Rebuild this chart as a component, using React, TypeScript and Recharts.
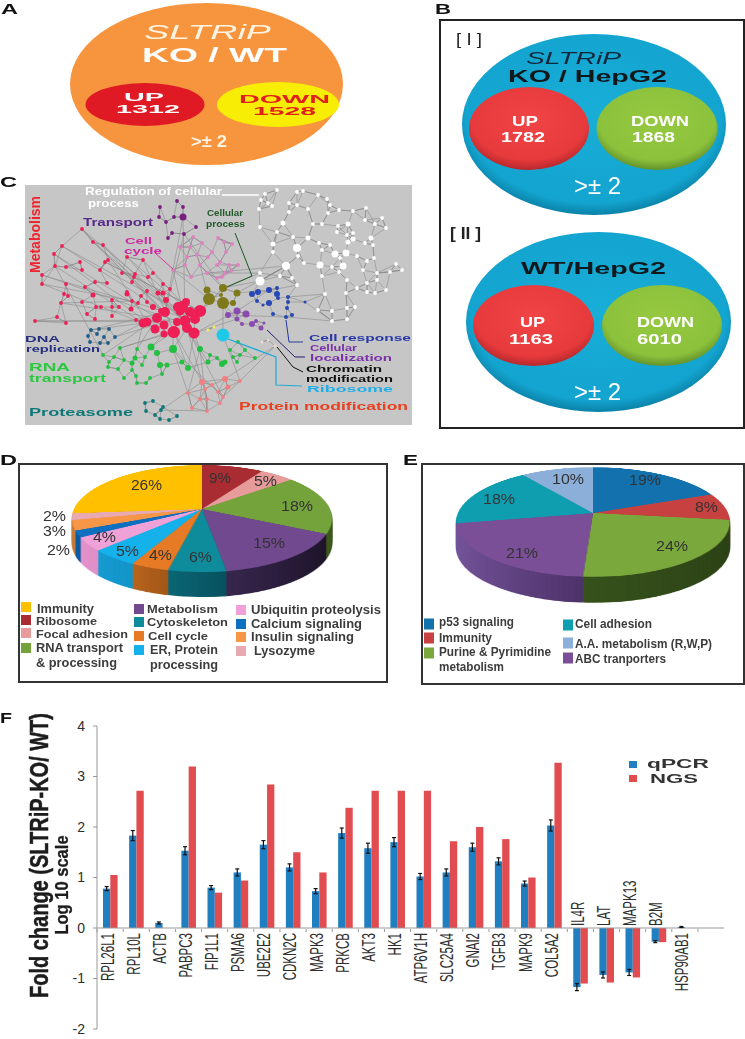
import React from 'react';
import {
    BarChart, Bar, XAxis, YAxis, ErrorBar, ReferenceLine,
    PieChart, Pie, Cell, ScatterChart, Scatter
} from 'recharts';

const FONT = '"Liberation Sans", Arial, sans-serif';

// panel F
const genes = ['RPL26L1', 'RPL10L', 'ACTB', 'PABPC3', 'FIP1L1', 'PSMA6', 'UBE2E2', 'CDKN2C', 'MAPK3', 'PRKCB', 'AKT3', 'HK1', 'ATP6V1H', 'SLC25A4', 'GNAI2', 'TGFB3', 'MAPK9', 'COL5A2', 'IL4R', 'LAT', 'MAPK13', 'B2M', 'HSP90AB1', ''];
const labelsAboveAxis = ['IL4R', 'LAT', 'MAPK13', 'B2M'];
const qpcr = [0.78, 1.83, 0.1, 1.53, 0.8, 1.1, 1.65, 1.2, 0.73, 1.88, 1.58, 1.7, 1.02, 1.1, 1.6, 1.32, 0.88, 2.03, -1.17, -0.93, -0.88, -0.27, 0.02, 0];
const ngs = [1.05, 2.72, 0, 3.2, 0.7, 0.94, 2.84, 1.5, 1.1, 2.38, 2.72, 2.72, 2.72, 1.72, 2.0, 1.76, 1.0, 3.27, -1.1, -1.08, -0.98, -0.28, 0, 0];
const qpcrErr = [0.04, 0.1, 0.02, 0.08, 0.04, 0.07, 0.08, 0.07, 0.05, 0.1, 0.1, 0.09, 0.06, 0.07, 0.08, 0.07, 0.05, 0.11, 0.07, 0.06, 0.06, 0.02, 0.01, 0];
const barRows = genes.map((g, i) => ({ g, qpcr: qpcr[i], ngs: ngs[i], err: qpcrErr[i] }));

// panel D
const dValues = [9, 5, 18, 15, 6, 4, 5, 4, 2, 3, 2, 26];
const dTop = ['#a92c32', '#e79b9b', '#74a33c', '#71498e', '#0f8c9c', '#e67a25', '#14b1ea', '#f0a2d8', '#0d6fc0', '#f79646', '#e8aab0', '#ffc000'];
const dSideA = ['#802025', '#b87878', '#4d6d24', '#3c2a55', '#0a6674', '#b8631c', '#149bd0', '#e491cb', '#0a5aa0', '#c87a38', '#c08890', '#c89600'];
const dSideB = ['#802025', '#b87878', '#3a5318', '#1c1228', '#07505e', '#8e4a12', '#0f86b8', '#c680b2', '#0a5aa0', '#c87a38', '#c08890', '#c89600'];

// panel E
const eValues = [19, 8, 24, 21, 18, 10];
const eTop = ['#1372ad', '#c6413f', '#7aa83c', '#7a4f98', '#0f9db0', '#8cafd9'];
const eSideA = ['#0e5a8a', '#94302e', '#36521c', '#74539a', '#0b7a88', '#6c8ab0'];
const eSideB = ['#0e5a8a', '#94302e', '#2a4014', '#4a2f66', '#0b7a88', '#6c8ab0'];

type N = number[];
const whiteNodes: N[] = [[277,190],[303,191],[297,192],[265,194],[261,200],[318,195],[327,199],[289,203],[272,206],[268,203],[297,205],[259,209],[308,209],[330,205],[339,210],[353,211],[366,208],[289,212],[328,213],[382,218],[365,220],[283,223,2.5],[260,227],[313,224],[322,224],[338,226],[348,224,2.5],[375,224],[386,228],[337,232],[277,232],[353,233],[347,235],[371,238,2.5],[293,237],[308,238,2.5],[353,239,2.5],[348,242,2.5],[365,243],[373,245],[273,244,2.5],[319,243],[297,248,4],[330,245],[322,250],[273,252],[335,254,3.5],[346,253,3.5],[340,258],[357,256],[298,256],[367,261],[374,258],[304,263],[286,266,4],[320,265,3.5],[343,266,3.5],[332,267],[396,264],[402,270],[363,270],[390,272],[260,273],[280,276],[322,276],[377,273],[339,272],[260,281,4.5],[292,278],[347,280],[377,280],[367,283],[357,288],[386,290],[325,294],[346,293],[297,285],[367,292],[375,293],[318,310],[332,311],[347,308],[332,321],[347,319],[355,307]];
const pinkNodes: N[] = [[193,237],[180,247],[190,247],[202,243],[187,257],[197,255],[208,257],[212,252],[218,238],[224,242],[232,244],[226,252],[173,270],[185,265],[200,265],[217,265],[220,262],[229,265],[238,265],[207,273],[225,273],[231,271],[191,277],[222,277],[217,278]];
const transportNodes: N[] = [[160,207],[177,201],[183,207],[159,217],[174,217],[183,217,3.5],[166,222],[196,227],[172,233],[184,234],[168,238]];
const redNodes: N[] = [[82,229],[62,246],[93,242],[103,245],[54,254],[108,260],[105,262],[80,262],[143,260],[127,257],[55,266],[66,267],[82,270],[100,270],[122,273],[135,274],[134,277],[153,273],[148,277],[42,275],[42,284],[66,284],[85,287],[95,282],[107,283],[132,282],[163,284],[170,289],[147,291],[127,292],[127,294,2.5],[93,295,2.5],[64,294],[68,296],[141,296],[158,293,2.5],[163,293,2.5],[82,302],[61,303],[112,300],[132,301],[138,303],[166,300,3],[186,302,4],[147,302],[96,307],[101,307],[112,307],[119,307],[131,309,2.5],[153,307,3],[178,307,5],[182,307,6],[161,311,3],[165,312,5],[180,311,4.5],[190,312,5],[200,311,6],[201,311,5],[35,321],[57,317],[66,323],[87,314],[95,319],[112,316],[136,320],[143,323,4.5],[147,322,4.5],[157,318,5],[164,325,4.5],[177,322,4],[185,321,5.5],[195,319,5],[187,328,5],[155,329,4.5],[174,332,6],[173,332,5.5],[164,334,3.5],[194,333,5.5]];
const oliveNodes: N[] = [[207,290,3.5],[223,288,4],[209,299,6],[221,295,2],[223,303,6],[233,303,3],[237,293,3.5]];
const blueNodes: N[] = [[252,294,3],[258,292,3],[269,290,3],[277,288,2],[277,294,3],[288,297,2],[278,298,2],[257,301,2],[269,303,3],[288,302,2],[305,302,1.5],[263,305,1.5],[287,308,2],[273,314,2],[292,315,2],[286,317,2]];
const localizationNodes: N[] = [[228,315,3],[237,311,3.5],[246,314,3.5],[256,321,2],[237,319,2.5],[242,324,2],[252,324,3],[264,323,1.5],[261,328,2.5]];
const greenNodes: N[] = [[120,348],[137,349],[151,347,3.5],[173,349,4],[157,353,3],[200,349,3],[210,355],[103,355],[114,357],[124,360],[135,358,2.5],[145,357],[109,362],[132,363,2.5],[108,367],[118,369],[132,370],[160,365,3],[167,365,2.5],[182,362,2.5],[188,368,3],[142,365],[208,362,2.5],[217,358],[124,378],[136,376],[150,378],[162,374],[137,383],[146,383],[238,342],[230,350],[245,350],[240,355],[255,358],[233,357],[237,362],[225,362,2.5],[222,364,3]];
const dnaNodes: N[] = [[91,330],[99,329],[109,329],[88,336],[97,334],[104,337],[115,337],[90,342],[100,343],[108,343]];
const proteasomeNodes: N[] = [[145,403],[153,401],[163,407],[146,411],[161,410],[155,415],[177,416],[160,419],[169,420]];
const salmonNodes: N[] = [[202,382,3],[225,379,3],[212,385],[228,387,2.5],[240,381],[188,393],[205,389],[218,392],[200,399],[207,399],[223,397],[220,403],[207,411],[192,408]];
const yellowNodes: N[] = [[208,330,1.5],[214,327,1.5]];
const ribosomeNodes: N[] = [[223,335,6.5]];
const chromatinNodes: N[] = [[262,342,1.5],[275,346,1.5],[268,340,1.2]];
const crossLinks: N[] = [[186,318],[42,275],[180,322],[35,321],[170,320],[82,229],[178,310],[62,246],[165,312],[93,242],[185,321],[127,257],[190,312],[143,260],[174,332],[120,348],[164,334],[151,347],[173,332],[173,349],[187,328],[200,349],[194,333],[188,368],[174,332],[202,382],[187,328],[223,397],[173,349],[188,393],[200,349],[207,411],[161,410],[202,382],[225,379],[275,346],[240,381],[223,335],[223,303],[209,299],[195,319],[223,288],[200,265],[209,299],[173,270],[185,321],[183,217],[165,312],[184,234],[223,288],[260,281],[286,266],[260,281],[252,294],[297,285],[288,297],[325,294],[305,302],[332,321],[286,317],[228,315],[223,303],[237,319],[195,333],[237,311],[269,290],[237,293],[286,266],[207,273],[260,273],[223,288],[200,311],[105,262],[200,311],[115,337],[165,312],[91,330],[143,323],[137,349],[157,318],[103,355],[55,266],[143,323],[42,284],[132,301],[61,303],[157,318],[54,254],[147,322],[108,260],[185,321],[103,245],[163,312]];

const leaderCycle: N[] = [[155,253],[173,269]];
const leaderRegulation: N[] = [[222,195],[259,195]];
const leaderProcess: N[] = [[235,233],[252,276],[227,287]];
const leaderResponse: N[] = [[286,320],[289,342],[303,342]];
const leaderLocal: N[] = [[267,330],[295,357],[305,357]];
const leaderChromatin: N[] = [[277,347],[293,367],[303,372]];
const leaderRibosome: N[] = [[228,339],[276,357],[276,385],[302,386]];

const EDGE = '#868686';
const toPts = (a: N[]) => a.map(p => ({ x: p[0], y: p[1], r: p[2] || 1.9 }));

// each node keeps the offsets to its k nearest neighbours, the plot is 1:1 with the picture
const withLinks = (nodes: N[], k: number) => nodes.map((p, i) => {
    const near = nodes
        .map((q, j) => ({ j, d: (q[0] - p[0]) ** 2 + (q[1] - p[1]) ** 2 }))
        .filter(o => o.j !== i)
        .sort((a, b) => a.d - b.d)
        .slice(0, k);
    return { x: p[0], y: p[1], links: near.map(o => [nodes[o.j][0] - p[0], nodes[o.j][1] - p[1]]) };
});
const edges = (p: any) => (
    <g>
        {p.payload.links.map((l: number[], i: number) => (
            <line key={i} x1={p.cx} y1={p.cy} x2={p.cx + l[0]} y2={p.cy + l[1]} stroke={EDGE} strokeWidth={0.55} />
        ))}
    </g>
);
const dot = (fill: string) => (p: any) => <circle cx={p.cx} cy={p.cy} r={p.payload.r} fill={fill} />;
const none = () => <g />;

const clusters: [N[], string, number][] = [
    [whiteNodes, '#ffffff', 3], [pinkNodes, '#e080c0', 3], [transportNodes, '#7a1f80', 2], [redNodes, '#ee1f55', 2],
    [oliveNodes, '#7e7a1c', 2], [blueNodes, '#2848b8', 2], [localizationNodes, '#8a4ab0', 2], [greenNodes, '#22c040', 2],
    [dnaNodes, '#1e5f88', 2], [proteasomeNodes, '#0f7878', 2], [salmonNodes, '#f27f80', 3], [yellowNodes, '#f4f050', 1],
    [ribosomeNodes, '#20c8e8', 0], [chromatinNodes, '#f0d8d4', 1]
];
const leaders: [N[], string, number][] = [
    [leaderCycle, '#d03aa0', 1], [leaderRegulation, '#ffffff', 1.4], [leaderProcess, '#1a5a20', 1],
    [leaderResponse, '#2838a0', 1], [leaderLocal, '#281f70', 1], [leaderChromatin, '#111111', 1],
    [leaderRibosome, '#1eaad8', 1.2]
];

// text: string, x from, x to, y centre, font size, colour, bold
type L = [string, number, number, number, number, string, boolean?];
const networkLabels: L[] = [
    ['Regulation of cellular', 85, 222, 191, 10.5, '#ffffff', true],
    ['process', 88, 139, 203, 10.5, '#ffffff', true],
    ['Transport', 83, 153, 222, 11, '#5a2a8a', true],
    ['Cell', 125, 152, 240, 9.5, '#d028a0', true],
    ['cycle', 124, 162, 250, 9.5, '#d028a0', true],
    ['Cellular', 207, 243, 213, 8.5, '#1f5a28', true],
    ['process', 206, 245, 224, 8.5, '#1f5a28', true],
    ['DNA', 25, 60, 339, 9, '#26307f', true],
    ['replication', 26, 100, 349, 9, '#26307f', true],
    ['RNA', 29, 70, 367, 10, '#2cc840', true],
    ['transport', 29, 106, 378, 10, '#2cc840', true],
    ['Proteasome', 29, 133, 412, 11, '#107878', true],
    ['Cell response', 309, 411, 337, 9.5, '#2838a8', true],
    ['Cellular', 310, 357, 347.5, 8.5, '#7a30a8', true],
    ['localization', 310, 392, 357.5, 8.5, '#7a30a8', true],
    ['Chromatin', 306, 382, 369, 8.5, '#111111', true],
    ['modification', 306, 393, 379, 8.5, '#111111', true],
    ['Ribosome', 307, 393, 389, 8.5, '#20b0e8', true],
    ['Protein modification', 239, 408, 406, 11, '#e84020', true]
];
const panelLetters: L[] = [
    ['A', 1, 18, 8, 15, '#111', true], ['B', 435, 451, 8, 15, '#111', true], ['C', 0, 17, 181, 15, '#111', true],
    ['D', 0, 17, 459, 15, '#111', true], ['E', 403, 418, 459, 15, '#111', true], ['F', 0, 12, 717, 15, '#111', true]
];
const vennLabels: L[] = [
    ['KO / WT', 142, 287, 54, 21, '#ffffff', true],
    ['UP', 124, 164, 97, 11, '#ffffff', true], ['1312', 116, 180, 109, 11, '#ffffff', true],
    ['DOWN', 239, 330, 99, 11, '#e0201c', true], ['1528', 253, 316, 111, 11, '#e0201c', true],
    ['>± 2', 191, 227, 141, 16, '#fff3e0', true],
    ['[ I ]', 456, 482, 39, 17, '#222', false],
    ['KO / HepG2', 508, 667, 76, 17, '#10181c', true],
    ['UP', 512, 538, 121, 14, '#ffffff', true], ['1782', 501, 545, 137, 14, '#ffffff', true],
    ['DOWN', 631, 689, 121, 14, '#ffffff', true], ['1868', 632, 675, 137, 14, '#ffffff', true],
    ['>± 2', 574, 621, 186, 23, '#ffffff', false],
    ['[ II ]', 450, 481, 233, 17, '#222', true],
    ['WT/HepG2', 521, 666, 268, 17, '#10181c', true],
    ['UP', 520, 545, 322, 14, '#ffffff', true], ['1163', 509, 553, 339, 14, '#ffffff', true],
    ['DOWN', 637, 694, 322, 14, '#ffffff', true], ['6010', 637, 682, 339, 14, '#ffffff', true],
    ['>± 2', 574, 621, 392, 23, '#ffffff', false]
];
const dPercents: L[] = [
    ['9%', 209, 231, 478, 14, '#333'], ['5%', 254, 277, 481, 14, '#333'], ['18%', 281, 313, 506, 14, '#333'],
    ['15%', 253, 285, 543, 14, '#333'], ['6%', 189, 212, 557, 14, '#333'], ['4%', 149, 172, 555, 14, '#333'],
    ['5%', 116, 139, 551, 14, '#333'], ['4%', 93, 116, 537, 14, '#333'], ['2%', 47, 70, 550, 14, '#333'],
    ['3%', 43, 66, 531, 14, '#333'], ['2%', 43, 66, 516, 14, '#333'], ['26%', 131, 162, 485, 14, '#333']
];
const ePercents: L[] = [
    ['19%', 629, 661, 480, 14, '#333'], ['8%', 695, 718, 507, 14, '#333'], ['24%', 656, 688, 546, 14, '#333'],
    ['21%', 506, 538, 553, 14, '#333'], ['18%', 483, 515, 499, 14, '#333'], ['10%', 552, 584, 479, 14, '#333']
];
const dLegendText: L[] = [
    ['Immunity', 37, 94, 609, 12, '#3c3c3c', true], ['Ribosome', 36, 97, 621, 11, '#3c3c3c', true],
    ['Focal adhesion', 36, 128, 634, 11, '#3c3c3c', true], ['RNA transport', 36, 123, 648, 12, '#3c3c3c', true],
    ['& processing', 36, 117, 663, 12, '#3c3c3c', true], ['Metabolism', 147, 218, 609, 11, '#3c3c3c', true],
    ['Cytoskeleton', 147, 228, 622, 11, '#3c3c3c', true], ['Cell cycle', 148, 208, 636, 11, '#3c3c3c', true],
    ['ER, Protein', 150, 218, 650, 12, '#3c3c3c', true], ['processing', 150, 218, 665, 12, '#3c3c3c', true],
    ['Ubiquitin proteolysis', 251, 381, 610, 12, '#3c3c3c', true], ['Calcium signaling', 251, 362, 624, 12, '#3c3c3c', true],
    ['Insulin signaling', 251, 354, 637, 12, '#3c3c3c', true], ['Lysozyme', 254, 315, 651, 12, '#3c3c3c', true]
];
const eLegendText: L[] = [
    ['p53 signaling', 439, 514, 622, 12, '#3c3c3c', true], ['Immunity', 439, 492, 638, 12, '#3c3c3c', true],
    ['Purine & Pyrimidine', 439, 551, 652, 12, '#3c3c3c', true], ['metabolism', 439, 504, 667, 12, '#3c3c3c', true],
    ['Cell adhesion', 575, 652, 624, 12, '#3c3c3c', true], ['A.A. metabolism (R,W,P)', 575, 712, 644, 12, '#3c3c3c', true],
    ['ABC tranporters', 575, 666, 659, 12, '#3c3c3c', true]
];
// swatch: colour, x, y centre
const dSwatches: [string, number, number][] = [
    ['#ffc000', 21, 607], ['#a92c32', 21, 620], ['#e79b9b', 21, 633], ['#74a33c', 21, 648],
    ['#71498e', 134, 609], ['#0f8c9c', 134, 622], ['#e67a25', 134, 636], ['#14b1ea', 134, 650],
    ['#f0a2d8', 236, 610], ['#0d6fc0', 236, 624], ['#f79646', 236, 637], ['#e8aab0', 236, 651]
];
const eSwatches: [string, number, number][] = [
    ['#1372ad', 424, 624], ['#c6413f', 424, 638], ['#7aa83c', 424, 653],
    ['#0f9db0', 563, 625], ['#8cafd9', 563, 643], ['#7a4f98', 563, 658]
];

const Labels = ({ items }: { items: L[] }) => (
    <>
        {items.map((l, i) => (
            <text key={i} x={l[1]} y={l[3]} textLength={l[2] - l[1]} lengthAdjust="spacingAndGlyphs"
                dominantBaseline="central" fontSize={l[4]} fill={l[5]} fontWeight={l[6] ? 700 : 400} fontFamily={FONT}>
                {l[0]}
            </text>
        ))}
    </>
);

const Oval = ({ cx, cy, rx, ry, fill }: any) => <ellipse cx={cx} cy={cy} rx={rx} ry={ry} fill={fill} />;

// flat pie tipped back with a css perspective; the side wall is the same tipped pie shifted down the page
const Pie3D = ({ id, values, top, sideA, sideB, cx, cy, R, depth, persp, tilt }: any) => {
    const rows = values.map((v: number, i: number) => ({ name: i, v }));
    const layers: number[] = [];
    for (let d = depth; d >= 0; d -= 1) layers.push(d);
    return (
        <>
            {layers.map(d => (
                <div key={d} style={{
                    position: 'absolute', left: cx - R, top: cy - R,
                    transformOrigin: `${R}px ${R}px`,
                    transform: `translateY(${d}px) perspective(${persp}px) rotateX(${tilt}deg)`
                }}>
                    <PieChart width={R * 2} height={R * 2} margin={{ top: 0, right: 0, bottom: 0, left: 0 }}>
                        <defs>
                            {values.map((_: number, i: number) => (
                                <linearGradient key={i} id={`${id}-side-${i}`} x1="0" y1="0" x2="1" y2="0">
                                    <stop offset="0%" stopColor={sideA[i]} />
                                    <stop offset="100%" stopColor={sideB[i]} />
                                </linearGradient>
                            ))}
                        </defs>
                        <Pie data={rows} dataKey="v" cx={R} cy={R} outerRadius={R} startAngle={90} endAngle={-270}
                            stroke="none" isAnimationActive={false} legendType="none">
                            {rows.map((_: any, i: number) => <Cell key={i} fill={d > 0 ? `url(#${id}-side-${i})` : top[i]} />)}
                        </Pie>
                    </PieChart>
                </div>
            ))}
        </>
    );
};

const ZERO_Y = 229; // px of the zero line inside the bar chart

const GeneTick = ({ x, payload }: any) => {
    const name = payload.value;
    if (!name) return <line x1={x - 13} x2={x - 13} y1={ZERO_Y} y2={ZERO_Y + 3} stroke="#999" />;
    const above = labelsAboveAxis.includes(name);
    const ty = above ? ZERO_Y - 3 : ZERO_Y + 4;
    return (
        <g>
            <line x1={x - 13} x2={x - 13} y1={ZERO_Y} y2={ZERO_Y + 3} stroke="#999" />
            <text transform={`translate(${x - 3},${ty}) rotate(-90) scale(0.64,1)`} textAnchor={above ? 'start' : 'end'}
                dominantBaseline="central" fontSize={18} fill="#2e2e2e" fontFamily={FONT}>
                {name}
            </text>
        </g>
    );
};

const App = () => (
    <div style={{ position: 'absolute', left: 0, top: 0, width: 745, height: 1039, background: '#fff', overflow: 'hidden', fontFamily: FONT, filter: 'blur(0.4px)' }}>
        <svg width={745} height={1039} style={{ position: 'absolute', left: 0, top: 0 }}>
            <defs>
                <radialGradient id="gBlue" cx="50%" cy="45%" r="55%">
                    <stop offset="0%" stopColor="#18aed8" /><stop offset="88%" stopColor="#13a4cf" /><stop offset="100%" stopColor="#0b82a8" />
                </radialGradient>
                <radialGradient id="gRed" cx="50%" cy="40%" r="60%">
                    <stop offset="0%" stopColor="#f04446" /><stop offset="80%" stopColor="#e63a3c" /><stop offset="100%" stopColor="#b8282c" />
                </radialGradient>
                <radialGradient id="gGreen" cx="50%" cy="40%" r="60%">
                    <stop offset="0%" stopColor="#96c940" /><stop offset="80%" stopColor="#8cc13c" /><stop offset="100%" stopColor="#64922a" />
                </radialGradient>
            </defs>
            <Oval cx={206.5} cy={84} rx={136.5} ry={81} fill="#f7943e" />
            <Oval cx={145} cy={104.5} rx={59.5} ry={21.5} fill="#e01a24" />
            <Oval cx={278} cy={104.5} rx={61} ry={22.5} fill="#f8ee05" />

            <rect x={440} y={20} width={304} height={408} fill="#fff" stroke="#222" strokeWidth={2} />
            <Oval cx={594} cy={124.5} rx={132} ry={90.5} fill="url(#gBlue)" />
            <Oval cx={529} cy={128.5} rx={60} ry={41.5} fill="url(#gRed)" />
            <Oval cx={657} cy={128.5} rx={60.5} ry={41.5} fill="url(#gGreen)" />
            <Oval cx={598.5} cy={322} rx={132.5} ry={90} fill="url(#gBlue)" />
            <Oval cx={533.5} cy={325.5} rx={60.5} ry={40.5} fill="url(#gRed)" />
            <Oval cx={662} cy={325.5} rx={60} ry={40.5} fill="url(#gGreen)" />

            <rect x={25} y={185} width={387} height={240} fill="#c6c6c6" />
            <rect x={19} y={464} width={368} height={218} fill="#fff" stroke="#333" strokeWidth={2} />
            <rect x={422} y={464} width={322} height={220} fill="#fff" stroke="#333" strokeWidth={2} />
        </svg>

        <div style={{ position: 'absolute', left: 25, top: 185 }}>
            <ScatterChart width={387} height={240} margin={{ top: 0, right: 0, bottom: 0, left: 0 }}>
                <XAxis type="number" dataKey="x" domain={[25, 412]} hide />
                <YAxis type="number" dataKey="y" domain={[185, 425]} reversed hide />
                <Scatter data={toPts(crossLinks)} shape={none} line={{ stroke: EDGE, strokeWidth: 0.55 }} isAnimationActive={false} />
                {clusters.map(([nodes, , k], i) => (
                    <Scatter key={`e${i}`} data={withLinks(nodes, k)} shape={edges} isAnimationActive={false} />
                ))}
                {clusters.map(([nodes, fill], i) => (
                    <Scatter key={`n${i}`} data={toPts(nodes)} shape={dot(fill)} isAnimationActive={false} />
                ))}
                {leaders.map(([pts, stroke, w], i) => (
                    <Scatter key={`l${i}`} data={toPts(pts)} shape={none} line={{ stroke, strokeWidth: w }} isAnimationActive={false} />
                ))}
            </ScatterChart>
        </div>

        <Pie3D id="d" values={dValues} top={dTop} sideA={dSideA} sideB={dSideB} cx={202} cy={509} R={128} depth={25} persp={657} tilt={66.1} />
        <Pie3D id="e" values={eValues} top={eTop} sideA={eSideA} sideB={eSideB} cx={593} cy={513} R={135} depth={26} persp={756} tilt={66.7} />

        <div style={{ position: 'absolute', left: 0, top: 700 }}>
            <BarChart width={745} height={339} data={barRows} barSize={7.3} barGap={0}
                margin={{ top: 26, right: 21, bottom: 9, left: 47 }}>
                <XAxis dataKey="g" height={1} axisLine={false} tickLine={false} interval={0} tick={<GeneTick />} />
                <YAxis width={50} domain={[-2, 4]} ticks={[-2, -1, 0, 1, 2, 3, 4]} tickSize={4} tickMargin={8} allowDecimals={false}
                    stroke="#999" tick={{ fill: '#2e2e2e', fontSize: 14, fontFamily: FONT }} />
                <ReferenceLine y={0} stroke="#999" />
                <Bar dataKey="qpcr" fill="#1f7fc1" isAnimationActive={false}>
                    <ErrorBar dataKey="err" width={2} stroke="#111" strokeWidth={1.2} direction="y" />
                </Bar>
                <Bar dataKey="ngs" fill="#e04c50" isAnimationActive={false} />
            </BarChart>
        </div>

        <svg width={745} height={1039} style={{ position: 'absolute', left: 0, top: 0, pointerEvents: 'none' }}>
            <text x={144} y={32} textLength={127} lengthAdjust="spacingAndGlyphs" dominantBaseline="central"
                fontSize={20} fontStyle="italic" fill="#fff3e0" fontFamily={FONT}>SLTRiP</text>
            <text x={526} y={58} textLength={95} lengthAdjust="spacingAndGlyphs" dominantBaseline="central"
                fontSize={16} fontStyle="italic" fill="#10263a" fontFamily={FONT}>SLTRiP</text>
            <Labels items={panelLetters} />
            <Labels items={vennLabels} />
            <Labels items={networkLabels} />
            <Labels items={dPercents} />
            <Labels items={ePercents} />
            <Labels items={dLegendText} />
            <Labels items={eLegendText} />
            {dSwatches.map(([c, x, y], i) => <rect key={i} x={x} y={y - 5} width={10} height={10} fill={c} />)}
            {eSwatches.map(([c, x, y], i) => <rect key={i} x={x} y={y - 5.5} width={10} height={11} fill={c} />)}
            <text transform="translate(40,855.5) rotate(-90) scale(0.8,1)" textAnchor="middle" dominantBaseline="central"
                fontSize={25} fontWeight={700} fill="#1c1c1c" stroke="#1c1c1c" strokeWidth={0.5} fontFamily={FONT}>Fold change (SLTRiP-KO/ WT)</text>
            <text transform="translate(62,885) rotate(-90) scale(0.87,1)" textAnchor="middle" dominantBaseline="central"
                fontSize={19} fontWeight={700} fill="#1c1c1c" stroke="#1c1c1c" strokeWidth={0.3} fontFamily={FONT}>Log 10 scale</text>
            <rect x={629} y={761} width={8} height={7} fill="#1f7fc1" />
            <rect x={629} y={775} width={8} height={7} fill="#e04c50" />
            <text x={647} y={763} textLength={62} lengthAdjust="spacingAndGlyphs" dominantBaseline="central" fontSize={13} fontWeight={700} fill="#333" fontFamily={FONT}>qPCR</text>
            <text x={650} y={778} textLength={48} lengthAdjust="spacingAndGlyphs" dominantBaseline="central" fontSize={13} fontWeight={700} fill="#333" fontFamily={FONT}>NGS</text>
            <text transform="translate(35,234.5) rotate(-90)" textAnchor="middle" dominantBaseline="central" fontSize={14} fontWeight={700} fill="#f0222c" fontFamily={FONT}>Metabolism</text>
        </svg>
    </div>
);

export default App;
